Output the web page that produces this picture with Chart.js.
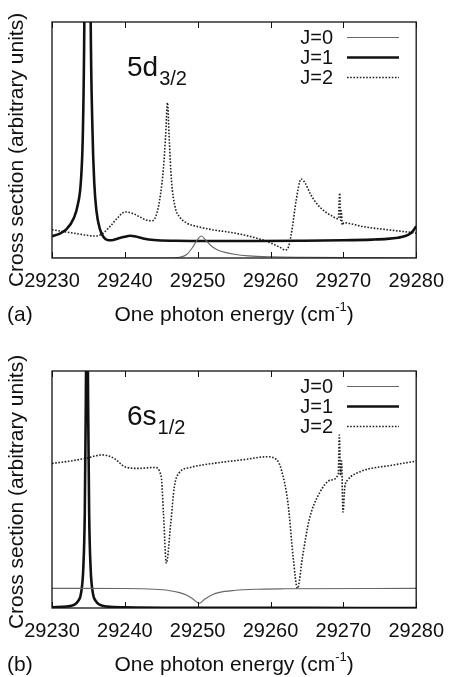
<!DOCTYPE html>
<html>
<head>
<meta charset="utf-8">
<script src="https://cdn.jsdelivr.net/npm/chart.js@4.4.1/dist/chart.umd.min.js"></script>
<style>
  body { margin: 0; background: #fff; overflow: hidden; }
  canvas { display: block; }
</style>
</head>
<body>
<canvas id="panelA" width="455" height="340"></canvas>
<canvas id="panelB" width="455" height="337"></canvas>
<script>
// tick labels of the energy axis (cm^-1)
const xTicks = [29230, 29240, 29250, 29260, 29270, 29280];
const legendLabels = ['J=0', 'J=1', 'J=2'];

// ---- panel (a): 5d3/2 ----
const energyA_J0 = [29230, 29246, 29247.5, 29248.5, 29249.3, 29249.9, 29250.5, 29251.1, 29251.8, 29252.6, 29253.6, 29255, 29257, 29260, 29265, 29272, 29280];
const sigmaA_J0 = [0, 0, 0.3, 1.5, 4.5, 7.5, 9.3, 7.6, 5.3, 3.6, 2.5, 1.6, 0.9, 0.5, 0.3, 0.15, 0];

const energyA_J1 = [29230, 29231, 29232, 29233, 29233.5, 29234, 29234.25, 29234.45, 29234.85, 29235.3, 29235.55, 29235.8, 29236.1, 29236.6, 29237.1, 29237.6, 29238.2, 29239, 29240, 29240.7, 29241.5, 29242.5, 29244, 29247, 29252, 29258, 29264, 29270, 29274, 29276, 29277.5, 29278.5, 29279.2, 29279.6, 29280];
const sigmaA_J1 = [9.2, 10.2, 12.2, 17, 22, 34, 55, 105, 380, 105, 55, 32, 20, 12, 8.8, 7.6, 7.5, 8.2, 9.0, 9.4, 9.1, 8.3, 7.6, 7.3, 7.2, 7.2, 7.3, 7.5, 7.8, 8.1, 8.6, 9.3, 10.4, 11.6, 13.5];

const energyA_J2 = [29230, 29232, 29234, 29236, 29237, 29238, 29239, 29240, 29241, 29242, 29243, 29243.8, 29244.4, 29244.9, 29245.3, 29245.6, 29245.85, 29246.1, 29246.4, 29246.9, 29247.5, 29248.5, 29250, 29252, 29255, 29258, 29260, 29261.3, 29262, 29262.5, 29263, 29263.5, 29264.2, 29264.8, 29265.5, 29266.5, 29267.5, 29268.5, 29269.3, 29269.5, 29269.62, 29269.72, 29269.85, 29270.1, 29270.6, 29272.7, 29276, 29280];
const sigmaA_J2 = [12, 11, 10, 9.3, 10.5, 13.5, 17, 19.5, 19, 17.5, 16, 15.8, 19, 27, 38, 52, 65.8, 50, 33, 21.6, 17.5, 14.8, 13.3, 12, 10.6, 8.5, 6.4, 4.5, 3.4, 5, 13, 24, 33.5, 31.5, 27, 22.5, 19.6, 17.7, 16.5, 27.5, 16, 20, 14, 15, 14.8, 13.3, 12, 10.6];

// ---- panel (b): 6s1/2 ----
const energyB_J0 = [29230, 29240, 29244, 29246, 29247.5, 29248.5, 29249.3, 29250.2, 29251, 29252, 29253, 29255, 29258, 29262, 29280];
const sigmaB_J0 = [8.3, 8.2, 7.9, 7.4, 6.5, 5.4, 3.9, 2.0, 3.8, 5.6, 6.6, 7.4, 7.9, 8.1, 8.3];

const energyB_J1 = [29230, 29232, 29233, 29233.6, 29234, 29234.3, 29234.5, 29234.65, 29234.8, 29234.95, 29235.1, 29235.3, 29235.6, 29236, 29236.6, 29237.6, 29240, 29250, 29265, 29280];
const sigmaB_J1 = [0.3, 0.6, 1.3, 3, 6.5, 17, 40, 90, 150, 90, 40, 17, 6.5, 3, 1.3, 0.6, 0.3, 0.1, 0.05, 0];

const energyB_J2 = [29230, 29232.5, 29234.7, 29236.9, 29238.5, 29240, 29241.8, 29244.1, 29245, 29245.3, 29245.7, 29246.3, 29246.8, 29247.4, 29249, 29252.1, 29256.6, 29259.5, 29260.9, 29261.5, 29262.4, 29263.1, 29263.7, 29264.4, 29265.3, 29266.7, 29268.3, 29269.3, 29269.45, 29269.6, 29269.75, 29269.95, 29270.2, 29270.6, 29272.3, 29276.8, 29280];
const sigmaB_J2 = [61, 62, 63.2, 64.6, 63.2, 59.6, 58.9, 59.3, 55.4, 40, 18.9, 35.7, 51.2, 56.8, 59.3, 61, 62.7, 63.8, 62.4, 58.2, 44.2, 21.7, 8.3, 21.7, 37.1, 48.4, 54, 56.5, 73, 56, 62, 40.5, 51, 54, 57.5, 60.3, 62];

const FONT = '"Liberation Sans", Arial, Helvetica, sans-serif';

function toPoints(xs, ys) {
    return xs.map((x, i) => ({ x: x, y: ys[i] }));
}

// gnuplot-like decorations: frame, inward ticks, titles, legend, state label
const decorPlugin = {
    id: 'decor',
    afterDraw(chart) {
        const opts = chart.options.plugins.decor;
        const ctx = chart.ctx;
        const area = chart.chartArea;
        const xs = chart.scales.x;
        ctx.save();

        // frame
        ctx.strokeStyle = '#111';
        ctx.lineWidth = 1.3;
        ctx.strokeRect(area.left, area.top, area.right - area.left, area.bottom - area.top);

        // inward tick marks, top and bottom
        ctx.lineWidth = 1;
        xTicks.forEach(v => {
            const px = Math.round(xs.getPixelForValue(v)) + 0.5;
            ctx.beginPath();
            ctx.moveTo(px, area.bottom);
            ctx.lineTo(px, area.bottom - 6);
            ctx.moveTo(px, area.top);
            ctx.lineTo(px, area.top + 6);
            ctx.stroke();
        });

        ctx.fillStyle = '#111';

        // y title
        ctx.save();
        ctx.translate(17, opts.yTitleCenter);
        ctx.rotate(-Math.PI / 2);
        ctx.font = '21px ' + FONT;
        ctx.textAlign = 'center';
        ctx.textBaseline = 'middle';
        ctx.fillText('Cross section (arbitrary units)', 0, 0);
        ctx.restore();

        // x title with superscript
        const base = area.bottom + 63;
        const cx = (area.left + area.right) / 2;
        ctx.textBaseline = 'alphabetic';
        ctx.textAlign = 'left';
        ctx.font = '21px ' + FONT;
        const p1 = 'One photon energy (cm';
        const p3 = ')';
        const w1 = ctx.measureText(p1).width;
        const w3 = ctx.measureText(p3).width;
        ctx.font = '13px ' + FONT;
        const w2 = ctx.measureText('-1').width;
        let x0 = cx - (w1 + w2 + w3) / 2;
        ctx.font = '21px ' + FONT;
        ctx.fillText(p1, x0, base);
        ctx.font = '13px ' + FONT;
        ctx.fillText('-1', x0 + w1, base - 10);
        ctx.font = '21px ' + FONT;
        ctx.fillText(p3, x0 + w1 + w2, base);

        // panel tag
        ctx.fillText(opts.tag, 7, base);

        // state label
        ctx.font = '28px ' + FONT;
        ctx.fillText(opts.state, 127, area.top + 54);
        const ws = ctx.measureText(opts.state).width;
        ctx.font = '20px ' + FONT;
        ctx.fillText(opts.sub, 127 + ws + 1, area.top + 63);

        // legend (text then line sample)
        chart.data.datasets.forEach((ds, i) => {
            const y = area.top + 15 + 20 * i;
            ctx.font = '20px ' + FONT;
            ctx.textAlign = 'right';
            ctx.textBaseline = 'middle';
            ctx.fillStyle = '#111';
            ctx.fillText(legendLabels[i], 333, y + 1);
            ctx.beginPath();
            ctx.strokeStyle = ds.borderColor;
            ctx.lineWidth = ds.borderWidth;
            ctx.setLineDash(ds.borderDash || []);
            ctx.moveTo(347, y + 0.5);
            ctx.lineTo(399, y + 0.5);
            ctx.stroke();
            ctx.setLineDash([]);
        });

        ctx.restore();
    }
};

function makeChart(id, sets, decor, padTop, axisHeight) {
    const styles = [
        { borderColor: '#666', borderWidth: 1.1, borderDash: [] },
        { borderColor: '#111', borderWidth: 2.6, borderDash: [] },
        { borderColor: '#222', borderWidth: 1.6, borderDash: [1.6, 1.6] }
    ];
    new Chart(document.getElementById(id), {
        type: 'line',
        data: {
            datasets: sets.map((pts, i) => Object.assign({
                label: legendLabels[i],
                data: pts,
                pointRadius: 0,
                fill: false,
                cubicInterpolationMode: 'monotone'
            }, styles[i]))
        },
        options: {
            responsive: false,
            animation: false,
            devicePixelRatio: 1,
            layout: { padding: { left: 52, right: 31, top: padTop, bottom: 0 } },
            scales: {
                x: {
                    type: 'linear',
                    min: 29230,
                    max: 29280,
                    grid: { display: false, drawTicks: false },
                    border: { display: false },
                    afterBuildTicks: s => { s.ticks = xTicks.map(v => ({ value: v })); },
                    afterFit: s => { s.height = axisHeight; },
                    ticks: {
                        autoSkip: false,
                        maxRotation: 0,
                        padding: 11,
                        color: '#111',
                        font: { family: FONT, size: 20 },
                        callback: v => String(v)
                    }
                },
                y: { display: false, min: 0, max: 100 }
            },
            plugins: {
                legend: { display: false },
                tooltip: { enabled: false },
                decor: decor
            }
        },
        plugins: [decorPlugin]
    });
}

makeChart('panelA', [
    toPoints(energyA_J0, sigmaA_J0),
    toPoints(energyA_J1, sigmaA_J1),
    toPoints(energyA_J2, sigmaA_J2)
], { tag: '(a)', state: '5d', sub: '3/2', yTitleCenter: 150 }, 22, 82);

makeChart('panelB', [
    toPoints(energyB_J0, sigmaB_J0),
    toPoints(energyB_J1, sigmaB_J1),
    toPoints(energyB_J2, sigmaB_J2)
], { tag: '(b)', state: '6s', sub: '1/2', yTitleCenter: 152 }, 31, 69);
</script>
</body>
</html>
